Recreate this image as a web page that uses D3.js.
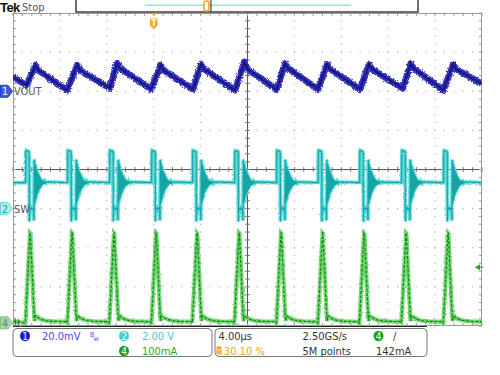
<!DOCTYPE html>
<html><head><meta charset="utf-8">
<script src="https://cdn.jsdelivr.net/npm/d3@7"></script>
<style>
body{margin:0;background:#fff;}
svg{display:block;}
text{font-family:"Liberation Sans Narrow","DejaVu Sans Condensed","Arial Narrow",sans-serif;}
</style></head><body>
<svg id="c" width="500" height="375"></svg>
<script>
// ---------------- data ----------------
const timeDomain = [0, 40];        // µs across the screen, 4.00 µs/div
const ch1Domain = [-120, 40];      // mV, 20.0 mV/div  (VOUT)
const ch2Domain = [-6, 10];        // V, 2.00 V/div    (SW)
const ch4Domain = [-8, 792];       // mA, 100 mA/div   (IL)

// VOUT ripple: [time µs, mV]
const voutPts = [
  [0,7.3],[1.15,3.1],[1.94,13.3],[2.17,10.7],
  [4.61,0.5],[5.46,13.3],[5.71,10.7],
  [8.27,1.5],[8.87,14.3],[9.13,11.8],
  [11.77,1.0],[12.60,13.3],[12.84,10.7],
  [15.35,1.0],[16.03,13.8],[16.29,11.3],
  [18.93,0.5],[19.73,15.0],[20.00,11.3],
  [22.49,0.9],[23.20,14.2],[23.45,11.8],
  [26.01,1.0],[26.78,13.8],[27.04,11.3],
  [29.60,1.0],[30.36,13.8],[30.62,11.3],
  [33.24,1.4],[33.92,14.2],[34.16,11.8],
  [36.70,0.5],[37.55,13.8],[37.78,11.3],
  [39.97,3.9]
];

// times (µs) of each inductor-current peak = one switching cycle
const cyclePeakT = [1.45, 5.03, 8.61, 12.20, 15.69, 19.28, 22.86, 26.40, 29.94, 33.52, 37.10];

// SW node waveform around each cycle: [µs from IL peak, V]
const swCycle = [
  [-0.375,1.33],[-0.358,2.86],[-0.333,2.97],[-0.102,2.92],[-0.068,2.81],
  [-0.051,-0.66],[-0.026,-0.05],[0.085,0.05],[0.171,-0.05],[0.256,0.03],[0.307,0],
  [0.333,-0.61],[0.367,2.51],[0.40,0.26],[0.435,2.30],[0.469,0.41],[0.503,2.15],
  [0.537,0.56],[0.571,2.00],[0.606,0.72],[0.640,1.89],[0.674,0.82],[0.708,1.79],
  [0.742,0.92],[0.776,1.69],[0.810,1.00],[0.844,1.61],[0.879,1.07],[0.913,1.53],
  [0.947,1.13],[0.981,1.48],[1.024,1.18],[1.066,1.43],[1.109,1.23],[1.160,1.41],
  [1.220,1.25],[1.280,1.38],[1.365,1.30],[1.450,1.36]
];
const swLead = [[0,1.33]];
const swTail = [[40,1.33]];

// inductor current around each cycle: [µs from IL peak, mA]
const ilCycle = [
  [-0.41,0],[-0.37,13],[-0.19,120],[0,230],[0.03,229],[0.19,123],[0.36,15],
  [0.40,5],[0.45,18],[0.53,17],[0.70,13],[0.94,9],[1.28,6],[1.88,4],[3.07,3]
];
const ilLead = [[0,4]];
const ilTail = [[40,3]];

const channelLabels = ["VOUT", "SW", "IL"];
const infoRow1 = ["20.0mV", "2.00 V", "4.00µs", "2.50GS/s", "142mA"];
const infoRow2 = ["100mA", "30.10 %", "5M points"];

// ---------------- layout ----------------
const L = 13, R = 482, T = 13, B = 326;
const svg = d3.select("#c");
const x = d3.scaleLinear().domain(timeDomain).range([L, R]);
const y1 = d3.scaleLinear().domain(ch1Domain).range([B, T]);
const y2 = d3.scaleLinear().domain(ch2Domain).range([B, T]);
const y4 = d3.scaleLinear().domain(ch4Domain).range([B, T]);
const divX = d3.scaleLinear().domain([0,10]).range([L, R]);
const divY = d3.scaleLinear().domain([0,8]).range([T, B]);

const defs = svg.append("defs");
defs.append("clipPath").attr("id","clip").append("rect")
  .attr("x",L).attr("y",T).attr("width",R-L).attr("height",B-T);
function noiseFilter(id, scale, freq){
  const f = defs.append("filter").attr("id",id).attr("x","-5%").attr("y","-20%").attr("width","110%").attr("height","140%");
  f.append("feTurbulence").attr("type","fractalNoise").attr("baseFrequency",freq).attr("numOctaves",1).attr("seed",3).attr("result","t");
  f.append("feDisplacementMap").attr("in","SourceGraphic").attr("in2","t").attr("scale",scale).attr("xChannelSelector","R").attr("yChannelSelector","G");
}
noiseFilter("noise", 3, 0.9);
noiseFilter("noise2", 4.5, 0.8);

// ---------------- graticule ----------------
const g = svg.append("g");
const minorX = d3.range(0, 50.001, 1).map(i => i/5);
const minorY = d3.range(0, 40.001, 1).map(i => i/5);
[1,2,3,4,6,7,8,9].forEach(i => {
  minorY.forEach(m => g.append("rect").attr("x",divX(i)-0.5).attr("y",divY(m)-0.5).attr("width",1).attr("height",1).attr("fill","#999"));
});
[1,2,3,5,6,7].forEach(j => {
  minorX.forEach(m => g.append("rect").attr("x",divX(m)-0.5).attr("y",divY(j)-0.5).attr("width",1).attr("height",1).attr("fill","#999"));
});
// center cross
g.append("line").attr("x1",divX(5)).attr("x2",divX(5)).attr("y1",T).attr("y2",B).attr("stroke","#555");
g.append("line").attr("x1",L).attr("x2",R).attr("y1",divY(4)).attr("y2",divY(4)).attr("stroke","#555");
minorY.forEach(m => g.append("line").attr("x1",divX(5)-2.5).attr("x2",divX(5)+2.5).attr("y1",divY(m)).attr("y2",divY(m)).attr("stroke","#777"));
minorX.forEach(m => g.append("line").attr("x1",divX(m)).attr("x2",divX(m)).attr("y1",divY(4)-2.5).attr("y2",divY(4)+2.5).attr("stroke","#777"));
// border ticks
minorY.forEach(m => {
  g.append("line").attr("x1",L).attr("x2",L+3).attr("y1",divY(m)).attr("y2",divY(m)).attr("stroke","#999");
  g.append("line").attr("x1",R-3).attr("x2",R).attr("y1",divY(m)).attr("y2",divY(m)).attr("stroke","#999");
});
minorX.forEach(m => {
  g.append("line").attr("x1",divX(m)).attr("x2",divX(m)).attr("y1",T).attr("y2",T+3).attr("stroke","#999");
  g.append("line").attr("x1",divX(m)).attr("x2",divX(m)).attr("y1",B-3).attr("y2",B).attr("stroke","#999");
});
g.append("rect").attr("x",L+0.5).attr("y",T+0.5).attr("width",R-L-1).attr("height",B-T-1)
  .attr("fill","none").attr("stroke","#999");

// ---------------- traces ----------------
function build(lead, peaks, shape, tail){
  const pts = lead.slice();
  peaks.forEach(p => shape.forEach(([dt,v]) => pts.push([p+dt, v])));
  return pts.concat(tail);
}
const tr = svg.append("g").attr("clip-path","url(#clip)");

const l1 = d3.line().x(d=>x(d[0])).y(d=>y1(d[1]));
tr.append("path").attr("d",l1(voutPts)).attr("fill","none").attr("stroke","#3232bc").attr("stroke-width",6.5).attr("filter","url(#noise2)").attr("stroke-linejoin","round");
tr.append("path").attr("d",l1(voutPts)).attr("fill","none").attr("stroke","#14147e").attr("stroke-width",2).attr("filter","url(#noise)");

const swPts = build(swLead, cyclePeakT, swCycle, swTail);
const l2 = d3.line().x(d=>x(d[0])).y(d=>y2(d[1]));
tr.append("path").attr("d",l2(swPts)).attr("fill","none").attr("stroke","#5fd9d9").attr("stroke-width",3.8).attr("filter","url(#noise)");
tr.append("path").attr("d",l2(swPts)).attr("fill","none").attr("stroke","#16a4a4").attr("stroke-width",1.1);

const ilPts = build(ilLead, cyclePeakT, ilCycle, ilTail);
const l4 = d3.line().x(d=>x(d[0])).y(d=>y4(d[1]));
tr.append("path").attr("d",l4(ilPts)).attr("fill","none").attr("stroke","#6fd46f").attr("stroke-width",4.2).attr("filter","url(#noise)");
tr.append("path").attr("d",l4(ilPts)).attr("fill","none").attr("stroke","#138a13").attr("stroke-width",1.2).attr("stroke-dasharray","3,1.5");

// bottom dark line
svg.append("line").attr("x1",L).attr("x2",427).attr("y1",B+0.5).attr("y2",B+0.5).attr("stroke","#222").attr("stroke-width",1.2);

// ---------------- header ----------------
svg.append("text").attr("x",0).attr("y",11.5).text("Tek").attr("font-size",13).attr("font-weight","bold")
  .attr("fill","#111").style("font-family","'Liberation Sans',Arial,sans-serif").attr("letter-spacing",-0.6);
svg.append("text").attr("x",22).attr("y",11).text("Stop").attr("font-size",11).attr("fill","#555");
svg.append("rect").attr("x",76).attr("y",-1).attr("width",342).attr("height",13).attr("fill","#fff").attr("stroke","#333").attr("stroke-width",1.4);
svg.append("line").attr("x1",145).attr("x2",351).attr("y1",5.3).attr("y2",5.3).attr("stroke","#8ee6e6").attr("stroke-width",1.6);
svg.append("rect").attr("x",204).attr("y",1).attr("width",5).attr("height",10).attr("rx",2).attr("fill","#fff").attr("stroke","#f0a020").attr("stroke-width",1.5);
svg.append("line").attr("x1",211).attr("x2",211).attr("y1",0).attr("y2",12).attr("stroke","#222");

// trigger position marker
svg.append("path").attr("d","M151.5,13 L156.5,13 L154,16 Z").attr("fill","#f0a030");
svg.append("path").attr("d","M150,18.5 h7.5 v7 l-3.75,3.7 l-3.75,-3.7 Z").attr("fill","#f5a627");
svg.append("text").attr("x",153.75).attr("y",26).attr("text-anchor","middle").attr("font-size",8.5).attr("font-weight","bold").attr("fill","#fff").text("T");

// trigger level arrow (ch4, 142 mA)
svg.append("path").attr("d",`M475,${y4(142)} l5,-3 v6 Z`).attr("fill","#22aa22");
svg.append("line").attr("x1",479).attr("x2",483).attr("y1",y4(142)).attr("y2",y4(142)).attr("stroke","#22aa22").attr("stroke-width",1.2);

// ---------------- channel markers ----------------
function marker(yc, fill, stroke, txt, tcol, label){
  svg.append("path").attr("d",`M0.5,${yc-6} h7.5 l4.5,6 l-4.5,6 h-7.5 Z`).attr("fill",fill).attr("stroke",stroke).attr("stroke-width",1);
  svg.append("text").attr("x",5).attr("y",yc+4).attr("text-anchor","middle").attr("font-size",10.5).attr("fill",tcol).text(txt);
  svg.append("text").attr("x",14).attr("y",yc+4.2).attr("font-size",11).attr("fill","#555").text(label);
}
marker(y1(0), "#4657cf", "#2a3bd0", "1", "#fff", channelLabels[0]);
marker(y2(0), "#aeeeee", "#62d8d8", "2", "#2a9a9a", channelLabels[1]);
marker(y4(0), "#a8d4a8", "#86c086", "4", "#5d8a5d", channelLabels[2]);

// ---------------- info boxes ----------------
svg.append("rect").attr("x",13).attr("y",328.5).attr("width",199).attr("height",28).attr("rx",4).attr("fill","#fff").attr("stroke","#777");
svg.append("rect").attr("x",215).attr("y",328.5).attr("width",212).attr("height",28).attr("rx",4).attr("fill","#fff").attr("stroke","#777");
function badge(cx, cy, fill, txt){
  svg.append("ellipse").attr("cx",cx).attr("cy",cy).attr("rx",5).attr("ry",5.2).attr("fill",fill);
  svg.append("text").attr("x",cx).attr("y",cy+3.8).attr("text-anchor","middle").attr("font-size",10).attr("fill","#fff").text(txt);
}
const r1 = 340, r2 = 355;
badge(25, 336, "#1a1ad0", "1");
svg.append("text").attr("x",42).attr("y",r1).attr("font-size",11).attr("fill","#4b4bf0").text(infoRow1[0]);
svg.append("text").attr("x",90).attr("y",337).attr("font-size",7).attr("fill","#4b4bf0").text("B");
svg.append("text").attr("x",93.5).attr("y",341).attr("font-size",7).attr("fill","#4b4bf0").text("w");
badge(124, 336, "#3ccfcf", "2");
svg.append("text").attr("x",142).attr("y",r1).attr("font-size",11).attr("fill","#3ccccc").text(infoRow1[1]);
badge(124, 351, "#1c9c1c", "4");
svg.append("text").attr("x",142).attr("y",r2).attr("font-size",11).attr("fill","#28a828").text(infoRow2[0]);

svg.append("text").attr("x",218.5).attr("y",r1).attr("font-size",11).attr("fill","#333").text(infoRow1[2]);
svg.append("rect").attr("x",216.5).attr("y",346.5).attr("width",5).attr("height",8).attr("fill","#f5a020");
svg.append("text").attr("x",219).attr("y",353.6).attr("text-anchor","middle").attr("font-size",7).attr("fill","#fff").text("T");
svg.append("text").attr("x",224).attr("y",r2).attr("font-size",11).attr("fill","#f5a020").text(infoRow2[1]);
svg.append("text").attr("x",302.5).attr("y",r1).attr("font-size",11).attr("fill","#333").text(infoRow1[3]);
svg.append("text").attr("x",302.5).attr("y",r2).attr("font-size",11).attr("fill","#333").text(infoRow2[2]);
badge(378.5, 336, "#1c9c1c", "4");
svg.append("text").attr("x",393).attr("y",r1).attr("font-size",11).attr("fill","#333").text("/");
svg.append("text").attr("x",376).attr("y",r2).attr("font-size",11).attr("fill","#333").text(infoRow1[4]);
</script>
</body></html>
